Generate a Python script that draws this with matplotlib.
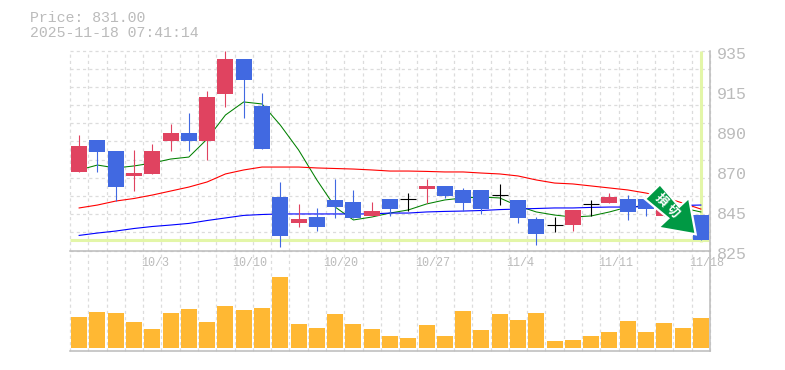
"""Candlestick chart with moving averages and volume -> out.png"""

import matplotlib

matplotlib.use("Agg")
import matplotlib.pyplot as plt
from matplotlib.patches import Polygon
from matplotlib.transforms import Affine2D, ScaledTranslation

W, H = 785, 370
GRAY = "#bbbbbb"
UP = "#e04360"
DOWN = "#4169e1"
HILITE = "#e3f6a8"
MONO = "Liberation Mono"

price_title = "Price: 831.00"
time_title = "2025-11-18 07:41:14"

opens = [868.2, 885.8, 879.7, 866.0, 867.1, 885.2, 889.6, 885.2, 911.1, 930.3, 904.5, 854.4,
         840.1, 843.4, 852.8, 851.7, 844.0, 853.3, 853.3, 858.8, 860.5, 858.3, 858.3, 855.5,
         852.8, 842.3, 839.0, 839.0, 850.6, 851.1, 853.3, 853.3, 844.0, 850.0, 844.5]
closes = [882.5, 879.2, 859.9, 867.6, 879.7, 889.6, 885.2, 909.4, 930.3, 918.8, 880.8, 833.0,
          842.3, 837.9, 848.9, 842.9, 846.7, 847.8, 853.3, 860.5, 855.0, 851.1, 847.8, 855.5,
          842.9, 834.1, 839.0, 847.3, 850.6, 854.4, 846.2, 847.8, 851.0, 841.0, 830.8]
highs = [888.5, 885.8, 879.7, 880.3, 883.6, 894.6, 900.6, 912.7, 934.7, 930.3, 911.6, 862.7,
         850.6, 848.4, 864.3, 858.3, 851.7, 853.3, 856.6, 864.3, 860.5, 859.4, 858.3, 861.6,
         852.8, 843.4, 843.4, 847.3, 852.8, 856.6, 855.5, 853.3, 852.0, 850.0, 844.5]
lows = [868.2, 868.2, 852.4, 857.7, 867.1, 879.7, 879.7, 874.8, 903.9, 897.9, 880.8, 826.9,
        837.9, 835.7, 842.9, 842.9, 844.0, 844.0, 846.7, 851.1, 853.9, 846.7, 845.1, 850.0,
        840.1, 828.0, 835.2, 835.7, 844.0, 851.1, 841.8, 844.0, 844.0, 841.0, 830.8]

ma_short = [869.3, 872.0, 870.4, 871.5, 873.1, 875.3, 876.4, 886.3, 899.5, 906.7, 905.6, 894.0,
            880.3, 863.8, 848.9, 841.8, 843.4, 845.6, 847.3, 850.6, 852.8, 853.9, 854.4, 853.9,
            849.5, 846.2, 844.5, 843.4, 844.0, 846.2, 848.9, 849.5, 848.9, 848.4, 846.2]
ma_mid = [848.4, 850.0, 852.2, 853.6, 855.5, 857.7, 859.9, 862.7, 867.1, 869.3, 870.9, 870.9,
          870.9, 870.4, 870.1, 869.8, 869.3, 868.7, 868.7, 868.5, 868.2, 868.2, 867.6, 867.1,
          866.0, 863.8, 862.1, 861.6, 860.5, 859.4, 858.3, 856.6, 854.4, 851.1, 847.8]
ma_long = [833.3, 834.6, 835.7, 837.1, 838.2, 839.0, 839.9, 841.5, 842.9, 844.3, 844.8, 845.1,
           845.1, 845.1, 845.1, 845.1, 845.1, 845.6, 845.6, 846.2, 846.5, 846.7, 847.0, 847.5,
           847.8, 848.1, 848.4, 848.4, 848.7, 848.9, 848.9, 849.2, 849.5, 849.8, 850.0]

volumes = [93, 108, 105, 78, 57, 105, 117, 78, 126, 114, 120, 213,
           72, 60, 102, 72, 57, 36, 30, 69, 36, 111, 54, 102,
           84, 105, 21, 24, 36, 48, 81, 48, 75, 60, 90]

date_idx = [4, 9, 14, 19, 24, 29, 34]
date_labels = ["10/3", "10/10", "10/20", "10/27", "11/4", "11/11", "11/18"]
price_ticks = [825, 847, 869, 891, 913, 935]
price_labels = ["825", "845", "870", "890", "915", "935"]

# sell marker, in reference pixels
arrow_px = [(660, 184.3), (679.3, 206.7), (689, 197.7), (695.7, 234.3),
            (658.3, 227.7), (668.3, 218.3), (645, 199)]
arrow_text = [("損", 661, 200), ("切", 672.5, 211)]

fig = plt.figure(figsize=(W / 100, H / 100), dpi=100)
px = Affine2D().scale(1 / W, -1 / H).translate(0, 1) + fig.transFigure

ax = fig.add_axes([70 / W, 1 - 250.5 / H, 640 / W, 200 / H])
vax = fig.add_axes([70 / W, 1 - 350.5 / H, 640 / W, 100 / H])
n = len(closes)
slots = [i - 0.5 for i in range(n + 1)]
grid_kw = dict(color="#dcdcdc", lw=0.9, ls=(0, (2.5, 2.5)), zorder=0, clip_on=False)

for a in (ax, vax):
    a.set_xlim(-0.5, n - 0.5)
    a.set_facecolor("none")
    a.vlines(slots, *(825, 935) if a is ax else (-7, 293), **grid_kw)
    for side in ("top", "left"):
        a.spines[side].set_visible(False)
    for side in ("right", "bottom"):
        a.spines[side].set_color(GRAY)
        a.spines[side].set_linewidth(1.1)

ax.set_ylim(825, 935)
ax.hlines(range(825, 936, 10), -0.5, n - 0.5, **grid_kw)
ax.hlines(closes[-1], -0.5, n - 1 + 0.44, color=HILITE, lw=2.2, zorder=1)
ax.plot([n - 1, n - 1], [829.6, 934.7], color=HILITE, lw=2.2, zorder=1, clip_on=False,
        solid_capstyle="butt")

ax.plot(range(n), ma_short, color="#008000", lw=0.75, zorder=2)
ax.plot(range(n), ma_mid, color="#ff0000", lw=0.8, zorder=2)
ax.plot(range(n), ma_long, color="#0000ff", lw=0.8, zorder=2)

# candles
for i in range(n):
    o, c = opens[i], closes[i]
    col = "black" if o == c else (UP if c > o else DOWN)
    ax.vlines(i, lows[i], highs[i], color=col, lw=0.8, zorder=3)
    if o == c:
        ax.hlines(o, i - 0.44, i + 0.44, color=col, lw=0.8, zorder=3)
    else:
        ax.bar(i, abs(c - o), bottom=min(o, c), width=0.875, color=col, lw=0, zorder=3)

ax.yaxis.tick_right()
ax.set_yticks(price_ticks, price_labels, color=GRAY, family=MONO, fontsize=12)
ax.tick_params(axis="y", length=0, pad=5)
for lab in ax.get_yticklabels():
    lab.set_transform(lab.get_transform() + ScaledTranslation(0, -2.2 / 100, fig.dpi_scale_trans))
ax.set_xticks(date_idx, date_labels, color=GRAY, family=MONO, fontsize=8.5, ha="left")
ax.tick_params(axis="x", length=0, pad=5)
for lab in ax.get_xticklabels():
    lab.set_transform(lab.get_transform() + ScaledTranslation(-11.5 / 100, 0, fig.dpi_scale_trans))

# volume
vax.set_ylim(-7, 293)
vax.bar(range(n), volumes, width=0.875, color="#ffb833", lw=0, zorder=3)
vax.set_xticks([])
vax.set_yticks([])

# sell marker
fig.add_artist(Polygon(arrow_px, closed=True, transform=px, facecolor="#009944",
                       edgecolor="white", lw=1.6, joinstyle="miter", zorder=10))
for s, x, y in arrow_text:
    fig.text(x, y, s, transform=px, color="white", fontsize=9, fontweight="bold",
             family="Noto Sans CJK JP", rotation=-45, ha="center", va="center", zorder=11)

fig.text(30, 18, price_title, transform=px, color=GRAY, family=MONO, fontsize=10.7,
         va="center", ha="left")
fig.text(30, 33, time_title, transform=px, color=GRAY, family=MONO, fontsize=10.7,
         va="center", ha="left")

fig.savefig("out.png", dpi=100)
